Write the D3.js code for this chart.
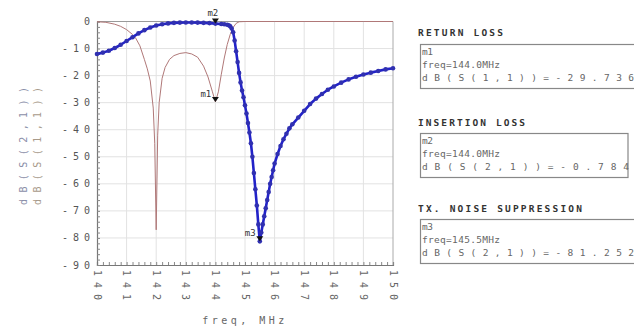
<!DOCTYPE html>
<html><head><meta charset="utf-8">
<script src="https://cdn.jsdelivr.net/npm/d3@7"></script>
<style>body{margin:0;background:#fff}svg{display:block}text{font-family:"DejaVu Sans Mono",monospace}</style>
</head><body>
<svg id="c" width="634" height="331"></svg>
<script>
// ---- data ----
const xTicks = [140,141,142,143,144,145,146,147,148,149,150];
const yTicks = [0,-10,-20,-30,-40,-50,-60,-70,-80,-90];
const s21Freq = [140.0,140.2,140.4,140.6,140.8,141.0,141.2,141.4,141.6,141.8,142.0,142.2,142.4,142.6,142.8,143.0,143.2,143.4,143.6,143.8,144.0,144.2,144.3,144.4,144.45,144.5,144.55,144.6,144.65,144.7,144.75,144.8,144.85,144.9,144.95,145.0,145.05,145.1,145.15,145.2,145.25,145.3,145.35,145.4,145.45,145.5,145.55,145.6,145.65,145.7,145.75,145.8,145.85,145.9,145.95,146.0,146.1,146.2,146.3,146.4,146.5,146.6,146.8,147.0,147.2,147.4,147.6,147.8,148.0,148.25,148.5,148.75,149.0,149.25,149.5,149.75,150.0];
const s21dB = [-12.0,-11.5,-10.8,-9.8,-8.6,-7.2,-5.8,-4.4,-3.2,-2.2,-1.5,-1.0,-0.7,-0.5,-0.4,-0.35,-0.35,-0.4,-0.5,-0.6,-0.78,-0.9,-1.0,-1.2,-1.4,-1.8,-2.6,-4,-7,-11,-15,-19,-22.5,-25.5,-28,-31,-34,-37.5,-41,-45,-50,-56,-62,-68,-75,-81.25,-78,-75,-72,-69,-66,-63,-60,-57.5,-55,-52.5,-49,-46,-43.5,-41.5,-39.5,-38,-35.5,-33,-30.5,-28.5,-26.8,-25.2,-24,-22.6,-21.4,-20.4,-19.6,-18.9,-18.3,-17.7,-17.3];
const s11Freq = [140.0,140.3,140.6,140.8,141.0,141.2,141.3,141.45,141.6,141.7,141.8,141.9,141.95,142.0,142.05,142.1,142.2,142.3,142.45,142.6,142.8,143.0,143.2,143.4,143.6,143.75,143.9,144.0,144.1,144.2,144.3,144.4,144.5,144.6,144.7,144.8,145.0,146.0,147.0,148.0,149.0,150.0];
const s11dB = [-0.1,-0.3,-1.0,-1.8,-3.0,-4.8,-6.0,-9.0,-14.0,-17.5,-22.0,-32.0,-45.0,-77.0,-42.0,-30.0,-21.0,-17.0,-14.0,-12.6,-11.8,-11.5,-12.0,-13.2,-16.5,-20.5,-26.0,-29.736,-26.0,-19.5,-13.5,-8.5,-4.8,-2.2,-0.7,-0.1,0,0,0,0,0,0];
const markerNames = ["m1","m2","m3"];
const markerFreq = [144.0,144.0,145.5];
const markerdB = [-29.736,-0.784,-81.252];
const panelTitles = ["RETURN LOSS","INSERTION LOSS","TX. NOISE SUPPRESSION"];
const panelLines = [
  ["m1","freq=144.0MHz","dB(S(1,1))=-29.736"],
  ["m2","freq=144.0MHz","dB(S(2,1))=-0.784"],
  ["m3","freq=145.5MHz","dB(S(2,1))=-81.252"]
];
const yTitles = ["dB(S(2,1))","dB(S(1,1))"];
const xTitle = "freq, MHz";

// ---- layout ----
const svg = d3.select("#c");
const L=97, R=393, T=21.5, B=265;
const x = d3.scaleLinear().domain([140,150]).range([L,R]);
const y = d3.scaleLinear().domain([0,-90]).range([T,B]);

// grid
svg.append("g").selectAll("line").data(xTicks.slice(1,-1)).join("line")
  .attr("x1",d=>x(d)).attr("x2",d=>x(d)).attr("y1",T).attr("y2",B)
  .attr("stroke","#e2e2e2").attr("stroke-width",1);
svg.append("g").selectAll("line").data(yTicks.slice(1,-1)).join("line")
  .attr("x1",L).attr("x2",R).attr("y1",d=>y(d)).attr("y2",d=>y(d))
  .attr("stroke","#e2e2e2").attr("stroke-width",1);
// frame top/right
svg.append("line").attr("x1",L).attr("x2",R).attr("y1",T).attr("y2",T).attr("stroke","#9a9a9a");
svg.append("line").attr("x1",R).attr("x2",R).attr("y1",T).attr("y2",B).attr("stroke","#aaa");

// axes
const xAxis = d3.axisBottom(x).tickValues(d3.range(140,150.01,0.2)).tickSize(-3).tickFormat("");
const gx = svg.append("g").attr("transform",`translate(0,${B})`).call(xAxis);
const yAxis = d3.axisLeft(y).tickValues(d3.range(0,-90.01,-2)).tickSize(-3).tickFormat("");
const gy = svg.append("g").attr("transform",`translate(${L},0)`).call(yAxis);
[gx,gy].forEach(g=>{g.select(".domain").attr("stroke","#777").attr("stroke-width",1.2);g.selectAll(".tick line").attr("stroke","#888");});

// x tick labels (vertical)
svg.append("g").selectAll("text").data(xTicks).join("text")
  .attr("transform",d=>`translate(${x(d)-3.5},${B+5}) rotate(90)`)
  .attr("font-size",10).attr("fill","#666").attr("letter-spacing",6)
  .text(d=>d);
// y tick labels
svg.append("g").selectAll("text").data(yTicks).join("text")
  .attr("x",L-2).attr("y",d=>y(d)+3.5).attr("text-anchor","end")
  .attr("font-size",10).attr("fill","#555").attr("letter-spacing",5)
  .text(d=>d===0?"0":"-"+Math.abs(d));
// titles
svg.append("text").attr("x",245).attr("y",324).attr("text-anchor","middle")
  .attr("font-size",10).attr("fill","#666").attr("letter-spacing",3.5).text(xTitle);
yTitles.forEach((t,i)=>{
  svg.append("text").attr("transform",`translate(${27+i*14},205) rotate(-90)`)
    .attr("font-size",10).attr("fill",i===0?"#8a8ea8":"#a89a8a")
    .attr("textLength",118).attr("lengthAdjust","spacing").text(t);
});

// S11
const line = d3.line().x(d=>x(d[0])).y(d=>y(d[1]));
svg.append("path").datum(d3.zip(s11Freq,s11dB)).attr("d",line)
  .attr("fill","none").attr("stroke","#b07878").attr("stroke-width",1);
// S21
const s21 = d3.zip(s21Freq,s21dB);
svg.append("path").datum(s21).attr("d",line)
  .attr("fill","none").attr("stroke","#2222c8").attr("stroke-width",2.6).attr("stroke-linejoin","round");
svg.append("g").selectAll("circle").data(s21).join("circle")
  .attr("cx",d=>x(d[0])).attr("cy",d=>y(d[1])).attr("r",2.3).attr("fill","#3030b0");

// markers
const mk = svg.append("g");
markerNames.forEach((n,i)=>{
  const px=x(markerFreq[i]), py=y(markerdB[i]);
  mk.append("path").attr("d",`M${px-3.5},${py-5}L${px+3.5},${py-5}L${px},${py}Z`).attr("fill","#111");
  const lx = i===1? px-8 : px-15;
  const ly = i===1? py-8 : py-5;
  mk.append("text").attr("x",lx).attr("y",ly).attr("font-size",9).attr("fill","#333").text(n);
});

// right panels
const tops=[44,133,219];
const titleY=[36,126,212];
const titleLen=[85,107,164];
const boxR=[640,628,640];
const lineLens=[[11,78,212],[11,78,207],[11,78,212]];
panelTitles.forEach((t,i)=>{
  svg.append("text").attr("x",418).attr("y",titleY[i]).attr("font-size",9.5).attr("font-weight","bold")
    .attr("fill","#333").attr("textLength",titleLen[i]).attr("lengthAdjust","spacing").text(t);
  svg.append("rect").attr("x",420.5).attr("y",tops[i]+0.5).attr("width",boxR[i]-420.5).attr("height",44)
    .attr("fill","none").attr("stroke","#888").attr("stroke-width",1.2);
  panelLines[i].forEach((s,j)=>{
    svg.append("text").attr("x",422).attr("y",tops[i]+11+j*13).attr("font-size",9.5)
      .attr("fill","#666").attr("textLength",lineLens[i][j]).attr("lengthAdjust","spacing").text(s);
  });
});
</script>
</body></html>
